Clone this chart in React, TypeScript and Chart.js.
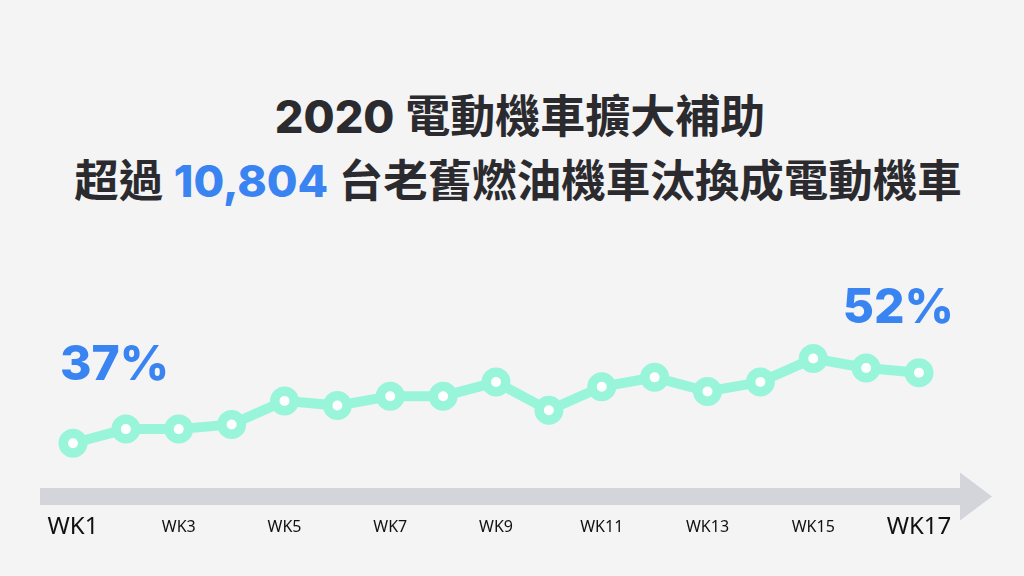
import { useEffect, useRef } from "react";
import { Chart, registerables } from "chart.js";

Chart.register(...registerables);

const weeks = [
    "WK1", "WK2", "WK3", "WK4", "WK5", "WK6", "WK7", "WK8", "WK9",
    "WK10", "WK11", "WK12", "WK13", "WK14", "WK15", "WK16", "WK17",
];
// share of new e-scooter registrations (%)
const shares = [37, 40, 40, 41, 46, 45, 47, 47, 50, 44, 49, 51, 48, 50, 55, 53, 52];

const titleYear = "2020";
const titleRest = "電動機車擴大補助";
const subPrefix = "超過";
const subCount = "10,804";
const subSuffix = "台老舊燃油機車汰換成電動機車";

const MINT = "#98f5d9";
const BLUE = "#3a84f2";
const ARROW = "#d4d5db";
const BG = "#f4f4f4";

// grey timeline arrow under the plot
const arrowPlugin = {
    id: "timelineArrow",
    beforeDatasetsDraw(chart: Chart) {
        const { ctx, chartArea } = chart;
        const cy = chartArea.bottom + 1.5;
        const left = chartArea.left - 33;
        const headStart = chartArea.right + 41;
        const tip = chartArea.right + 73;
        ctx.save();
        ctx.fillStyle = ARROW;
        ctx.fillRect(left, cy - 8.5, headStart - left, 17);
        ctx.beginPath();
        ctx.moveTo(headStart, cy - 24);
        ctx.lineTo(tip, cy);
        ctx.lineTo(headStart, cy + 24);
        ctx.closePath();
        ctx.fill();
        ctx.restore();
    },
};

// big % call-outs at the first and last week
const endLabelPlugin = {
    id: "endLabels",
    afterDatasetsDraw(chart: Chart) {
        const { ctx } = chart;
        const pts = chart.getDatasetMeta(0).data;
        const data = chart.data.datasets[0].data as number[];
        const first = pts[0];
        const last = pts[pts.length - 1];
        ctx.save();
        ctx.fillStyle = BLUE;
        ctx.font = "800 48px Inter, 'Noto Sans', sans-serif";
        ctx.textBaseline = "alphabetic";
        ctx.textAlign = "left";
        ctx.fillText(`${data[0]}%`, first.x - 13, first.y - 63);
        ctx.textAlign = "right";
        ctx.fillText(`${data[data.length - 1]}%`, last.x + 35, last.y - 50);
        ctx.restore();
    },
};

const ShareChart = () => {
    const canvasRef = useRef<HTMLCanvasElement>(null);

    useEffect(() => {
        if (!canvasRef.current) return;
        const chart = new Chart(canvasRef.current, {
            type: "line",
            data: {
                labels: weeks,
                datasets: [
                    {
                        data: shares,
                        borderColor: MINT,
                        borderWidth: 10,
                        tension: 0,
                        pointRadius: 9.75,
                        pointHoverRadius: 9.75,
                        pointBorderWidth: 9.5,
                        pointBackgroundColor: "#ffffff",
                        pointBorderColor: MINT,
                        clip: false,
                    },
                ],
            },
            options: {
                animation: false,
                responsive: false,
                layout: { padding: { left: 73, right: 105, top: 335, bottom: 16 } },
                plugins: { legend: { display: false }, tooltip: { enabled: false } },
                scales: {
                    y: { display: false, min: 26, max: 60 },
                    x: {
                        grid: { display: false, drawTicks: false },
                        border: { display: false },
                        ticks: {
                            autoSkip: false,
                            maxRotation: 0,
                            padding: 18,
                            color: "#111111",
                            callback: (_v, i) => (i % 2 === 0 ? weeks[i] : null),
                            font: (ctx: any) => {
                                const i = ctx.tick ? ctx.tick.value : ctx.index;
                                const edge = i === 0 || i === weeks.length - 1;
                                return edge
                                    ? { family: "'Noto Sans', sans-serif", size: 24, lineHeight: "29px" }
                                    : { family: "'Noto Sans', sans-serif", size: 16, lineHeight: "29px" };
                            },
                        },
                    },
                },
            },
            plugins: [arrowPlugin, endLabelPlugin],
        });
        return () => chart.destroy();
    }, []);

    return (
        <canvas
            ref={canvasRef}
            width={1024}
            height={576}
            style={{ position: "absolute", left: 0, top: 0, width: 1024, height: 576 }}
        />
    );
};

export default function App() {
    const head = {
        position: "absolute" as const,
        left: 0,
        width: 1024,
        textAlign: "center" as const,
        fontFamily: "Inter, 'Noto Sans CJK TC', sans-serif",
        fontWeight: 700,
        color: "#2b2b2f",
        lineHeight: 1,
        whiteSpace: "nowrap" as const,
    };
    const num = { fontWeight: 800 };
    return (
        <div style={{ position: "fixed", inset: 0, background: BG, overflow: "hidden" }}>
            <div style={{ position: "relative", width: 1024, height: 576 }}>
                <div style={{ ...head, top: 94, left: 8, fontSize: 45 }}>
                    <span style={num}>{titleYear}</span> {titleRest}
                </div>
                <div style={{ ...head, top: 159, left: 6, fontSize: 44.5 }}>
                    {subPrefix} <span style={{ ...num, color: BLUE }}>{subCount}</span> {subSuffix}
                </div>
                <ShareChart />
            </div>
        </div>
    );
}
